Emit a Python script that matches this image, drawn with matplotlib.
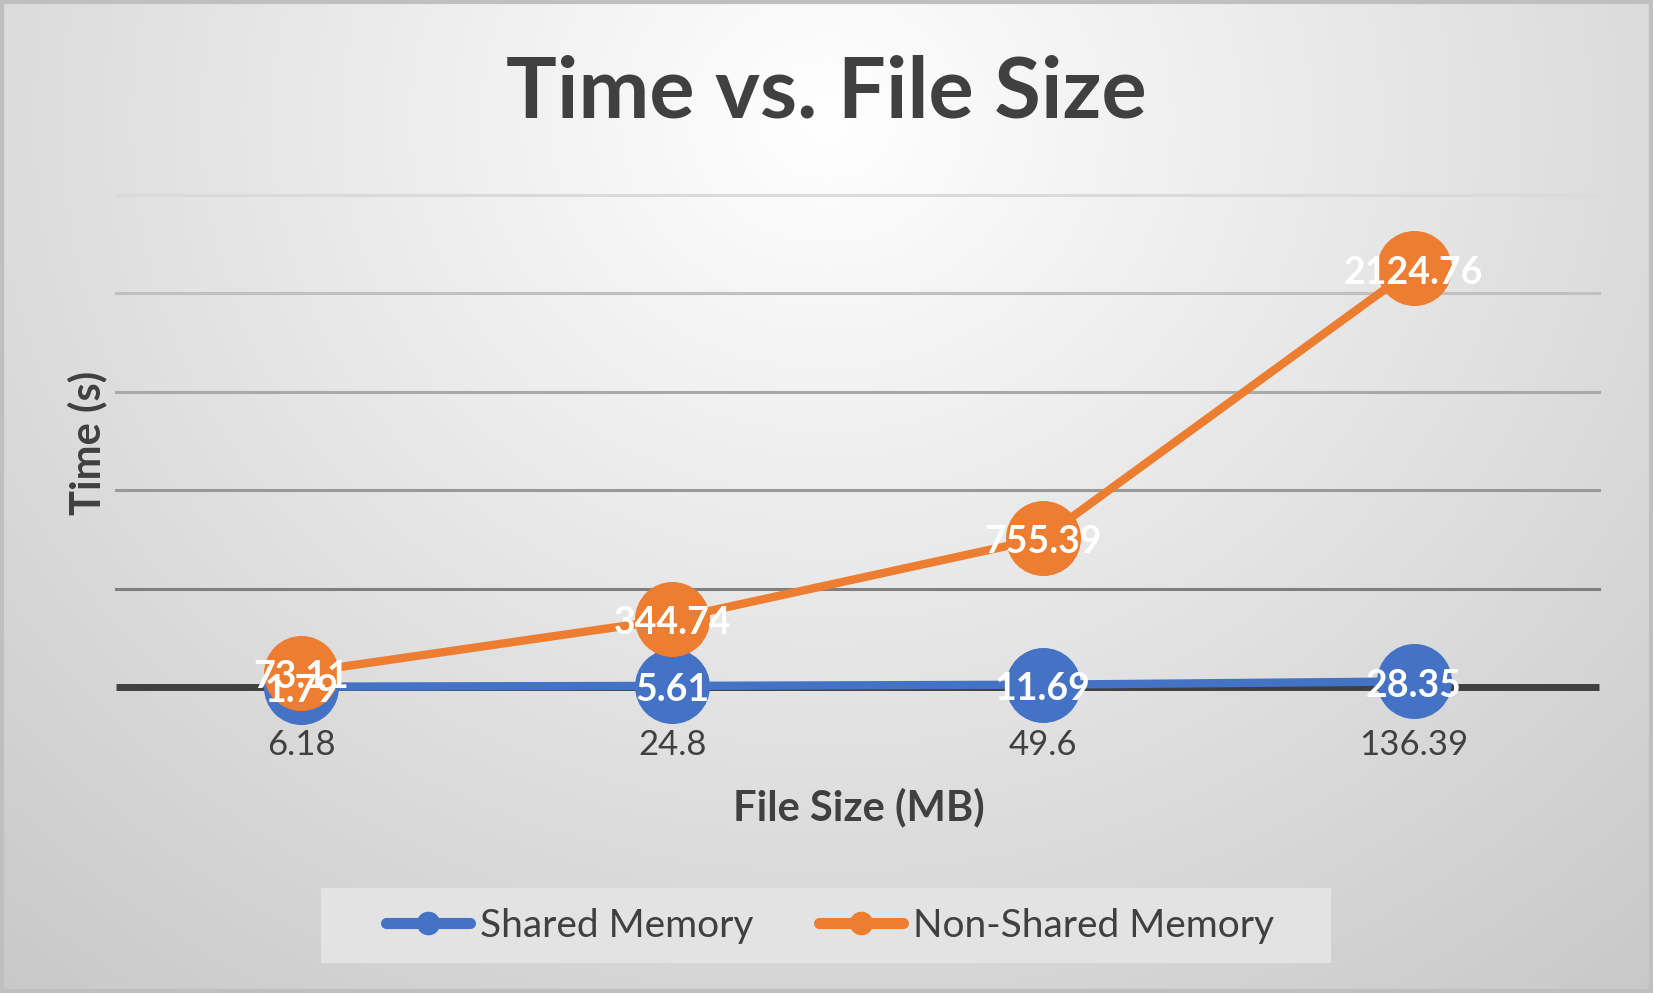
import numpy as np
import matplotlib
matplotlib.use("Agg")
import matplotlib.pyplot as plt
from matplotlib.lines import Line2D
from matplotlib.patches import Rectangle

# ---- data ----
file_sizes = ["6.18", "24.8", "49.6", "136.39"]
shared = [1.79, 5.61, 11.69, 28.35]
non_shared = [73.11, 344.74, 755.39, 2124.76]
series_names = ["Shared Memory", "Non-Shared Memory"]
title = "Time vs. File Size"
xlabel = "File Size (MB)"
ylabel = "Time (s)"
y_max = 2500
y_step = 500

BLUE = "#4472C4"
ORANGE = "#ED7D31"
TXT = "#404040"

plt.rcParams['font.family'] = ['Lato', 'DejaVu Sans']

W, H = 1653, 993
fig = plt.figure(figsize=(W / 100, H / 100), dpi=100)

# background radial gradient
bg = fig.add_axes([0, 0, 1, 1], zorder=-10)
yy, xx = np.mgrid[0:1:400j, 0:1:600j]
d = np.sqrt(((xx - 0.5) / 0.6) ** 2 + ((yy - 0.12) / 0.9) ** 2)
val = np.clip(1 - 0.167 * d, 0, 1)
bg.imshow(np.dstack([val, val, val]), extent=[0, 1, 1, 0], aspect='auto', interpolation='bilinear')
bg.set_xlim(0, 1); bg.set_ylim(1, 0)
bg.axis('off')

# border
fig.patches.append(Rectangle((0.001, 0.002), 0.998, 0.996, transform=fig.transFigure,
                             fill=False, edgecolor='#bfbfbf', linewidth=3, zorder=5))

left = 116 / W
right = 1599 / W
bottom = 1 - 687 / H
top = 1 - 194.5 / H
ax = fig.add_axes([left, bottom, right - left, top - bottom])
ax.set_facecolor('none')
x = np.arange(len(file_sizes))
ax.set_xlim(-0.5, len(file_sizes) - 0.5)
ax.set_ylim(0, y_max)

# gridlines with progressively darker colours toward the bottom
grid_cols = ['#7f7f7f', '#999999', '#a9a9a9', '#c0c0c0', '#dadada']
for i, yv in enumerate(np.arange(y_step, y_max + 1, y_step)):
    ax.axhline(yv, color=grid_cols[i], linewidth=2.2, zorder=1, clip_on=False)
ax.axhline(0, color=TXT, linewidth=5, zorder=2, solid_capstyle='butt', clip_on=False)

for s in ax.spines.values():
    s.set_visible(False)
ax.set_yticks([])
ax.set_xticks(x)
ax.set_xticklabels(file_sizes, fontsize=25, color=TXT)
ax.tick_params(axis='x', length=0, pad=30)

ax.plot(x, shared, color=BLUE, linewidth=6, marker='o', markersize=53, zorder=3, clip_on=False)
ax.plot(x, non_shared, color=ORANGE, linewidth=6, marker='o', markersize=53, zorder=4, clip_on=False)

for series in (shared, non_shared):
    for xi, v in zip(x, series):
        ax.annotate(f"{v:g}", (xi, v), xytext=(0, -3), textcoords='offset points',
                    ha='center', va='center', fontsize=27, fontweight='bold',
                    color='white', zorder=6, annotation_clip=False)

fig.text(0.5, 1 - 93 / H, title, ha='center', va='center', fontsize=61,
         fontweight='bold', color=TXT)
fig.text(859 / W, 1 - 807 / H, xlabel, ha='center', va='center', fontsize=30,
         fontweight='bold', color=TXT)
fig.text(87 / W, 1 - 420 * 1.0542 / H, ylabel, ha='center', va='center', fontsize=30,
         fontweight='bold', color=TXT, rotation=90)

# legend box
fig.patches.append(Rectangle((321 / W, 1 - 963 / H), (1331 - 321) / W, 75 / H,
                             transform=fig.transFigure, facecolor='#e3e3e3',
                             edgecolor='none', zorder=1))
handles = [Line2D([], [], color=BLUE, linewidth=8, marker='o', markersize=16,
                  solid_capstyle='round'),
           Line2D([], [], color=ORANGE, linewidth=8, marker='o', markersize=16,
                  solid_capstyle='round')]
leg = fig.legend(handles, series_names, loc='center', bbox_to_anchor=(830 / W, 1 - 925.5 / H),
                 ncol=2, frameon=False, fontsize=28, handlelength=2.15, handletextpad=0.25,
                 columnspacing=1.7, labelcolor=TXT)
leg.set_zorder(6)

fig.savefig("out.png", dpi=100)
